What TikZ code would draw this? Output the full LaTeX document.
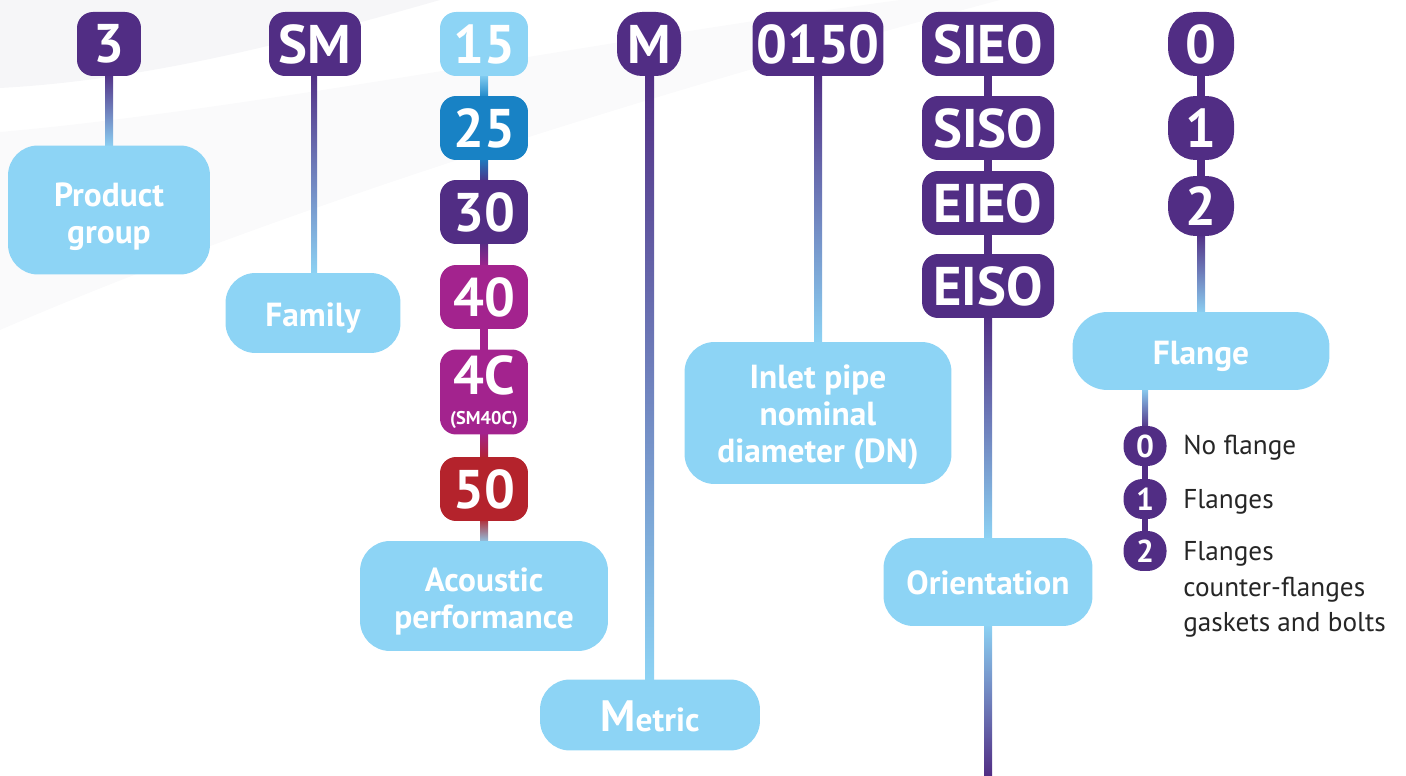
\documentclass[tikz,border=0pt]{standalone}
\usepackage{fontspec}
\setmainfont{PT Sans}
\usepackage{xcolor}
\usetikzlibrary{calc,positioning,backgrounds}

\definecolor{plum}{HTML}{512D84}
\definecolor{sky}{HTML}{8DD4F5}
\definecolor{ocean}{HTML}{1882C5}
\definecolor{orchid}{HTML}{A3238E}
\definecolor{brick}{HTML}{B4232C}
\definecolor{haze}{HTML}{F6F6F8}

\newcommand{\codefont}{\fontsize{31}{31}\selectfont\bfseries}
\newcommand{\tagfont}{\fontsize{19}{21}\selectfont\bfseries}

\tikzset{
  code/.style={fill=plum, text=white, font=\codefont, rounded corners=0.32cm,
    minimum height=1.28cm, inner sep=0pt},
  tag/.style={fill=sky, text=white, font=\tagfont, rounded corners=0.6cm,
    align=center, inner sep=0pt},
  pin/.style={fill=plum, text=white, font=\fontsize{18}{18}\selectfont\bfseries,
    rounded corners=0.38cm, minimum width=0.86cm, minimum height=0.8cm, inner sep=0pt},
  note/.style={anchor=base west, font=\fontsize{15.5}{15.5}\selectfont, text=black!85, inner sep=0pt}
}

\begin{document}
\begin{tikzpicture}[x=0.02cm,y=-0.02cm]
	\useasboundingbox (0,0) rectangle (1406,776);
	% product group and family
	\node[code, minimum width=1.28cm] (c3) at (109,44) {3};
	\node[tag, minimum width=4.04cm, minimum height=2.58cm] (group) at (109,210) {\rule{0pt}{21pt}Product\\group};
	\node[code, minimum width=1.84cm] (sm) at (315,44) {SM};
	\node[tag, minimum width=3.5cm, minimum height=1.6cm] (family) at (313,313) {\rule{0pt}{19pt}Family};
	% acoustic performance
	\node[code, fill=sky, minimum width=1.76cm] (a15) at (484,44) {15};
	\node[code, fill=ocean, minimum width=1.76cm] (a25) at (484,128) {25};
	\node[code, minimum width=1.76cm] (a30) at (484,212) {30};
	\node[code, fill=orchid, minimum width=1.76cm] (a40) at (484,297) {40};
	\node[code, fill=orchid, minimum width=1.76cm, minimum height=1.7cm, align=center] (a4c) at (484,392)
		{4C\\[-14pt]{\fontsize{10.5}{10.5}\selectfont (SM40C)}};
	\node[code, fill=brick, minimum width=1.76cm] (a50) at (484,489) {50};
	\node[tag, minimum width=4.96cm, minimum height=2.2cm] (acoustic) at (484,596) {\rule{0pt}{19.5pt}Acoustic\\performance};
	% metric
	\node[code, minimum width=1.28cm, rounded corners=0.5cm] (m) at (649,44) {M};
	\node[tag, minimum width=4.4cm, minimum height=1.42cm] (metric) at (650,715)
		{\rule{0pt}{19pt}{\fontsize{25}{25}\selectfont M}etric};
	% diameter
	\node[code, minimum width=2.62cm] (dn) at (818,44) {0150};
	\node[tag, minimum width=5.34cm, minimum height=2.84cm] (inlet) at (818,413) {\rule{0pt}{18.5pt}Inlet pipe\\nominal\\diameter (DN)};
	% orientation
	\node[code, minimum width=2.64cm] (sieo) at (988,44) {SIEO};
	\node[code, minimum width=2.64cm] (siso) at (988,128) {SISO};
	\node[code, minimum width=2.64cm] (eieo) at (988,203) {EIEO};
	\node[code, minimum width=2.64cm] (eiso) at (988,286) {EISO};
	\node[tag, minimum width=4.18cm, minimum height=1.76cm] (orient) at (988,582) {\rule{0pt}{14.5pt}Orientation};
	\coordinate (bottom) at (988,776);
	% flange
	\node[code, minimum width=1.32cm, rounded corners=0.55cm] (f0) at (1201,44) {0};
	\node[code, minimum width=1.32cm, rounded corners=0.55cm] (f1) at (1201,128) {1};
	\node[code, minimum width=1.32cm, minimum height=1.2cm, rounded corners=0.55cm] (f2) at (1201,206) {2};
	\node[tag, minimum width=5.14cm, minimum height=1.56cm, rounded corners=0.7cm] (flange) at (1201,351) {\rule{0pt}{19pt}Flange};
	\coordinate (drop) at ([xshift=-1.12cm]flange.south);
	\node[pin] (s0) at (1145,446) {0};
	\node[pin] (s1) at (1145,499) {1};
	\node[pin] (s2) at (1145,551) {2};
	\node[note] (n0) at (1183,455) {No flange};
	\node[note] (n1) at (1183,508) {Flanges};
	\node[note] (n2) at (1183,561) {Flanges};
	\node[note] (n3) at (1183,596) {counter-flanges};
	\node[note] (n4) at (1183,631) {gaskets and bolts};

	\begin{scope}[on background layer]
		\fill[haze] (0,0) -- (440,0) .. controls (300,40) and (150,80) .. (0,88) -- cycle;
		\fill[haze!50] (0,132) .. controls (250,110) and (600,40) .. (900,0) -- (1000,0)
			.. controls (700,80) and (300,200) .. (0,330) -- cycle;
		% connectors
		\shade[top color=plum, bottom color=sky] ([xshift=-0.08cm,yshift=2pt]c3.south) rectangle ([xshift=0.08cm,yshift=-2pt]group.north);
		\shade[top color=plum, bottom color=sky] ([xshift=-0.08cm,yshift=2pt]sm.south) rectangle ([xshift=0.08cm,yshift=-2pt]family.north);
		\shade[top color=sky, bottom color=ocean] ([xshift=-0.08cm,yshift=2pt]a15.south) rectangle ([xshift=0.08cm,yshift=-2pt]a25.north);
		\shade[top color=ocean, bottom color=plum] ([xshift=-0.08cm,yshift=2pt]a25.south) rectangle ([xshift=0.08cm,yshift=-2pt]a30.north);
		\shade[top color=plum, bottom color=orchid] ([xshift=-0.08cm,yshift=2pt]a30.south) rectangle ([xshift=0.08cm,yshift=-2pt]a40.north);
		\fill[orchid] ([xshift=-0.08cm,yshift=2pt]a40.south) rectangle ([xshift=0.08cm,yshift=-2pt]a4c.north);
		\shade[top color=orchid, bottom color=brick] ([xshift=-0.08cm,yshift=2pt]a4c.south) rectangle ([xshift=0.08cm,yshift=-2pt]a50.north);
		\shade[top color=brick, bottom color=sky] ([xshift=-0.08cm,yshift=2pt]a50.south) rectangle ([xshift=0.08cm,yshift=-2pt]acoustic.north);
		\shade[top color=plum, bottom color=sky] ([xshift=-0.08cm,yshift=2pt]m.south) rectangle ([xshift=0.08cm,yshift=-2pt]metric.north);
		\shade[top color=plum, bottom color=sky] ([xshift=-0.08cm,yshift=2pt]dn.south) rectangle ([xshift=0.08cm,yshift=-2pt]inlet.north);
		\fill[plum] ([xshift=-0.08cm,yshift=2pt]sieo.south) rectangle ([xshift=0.08cm,yshift=-2pt]eiso.north);
		\shade[top color=plum, bottom color=sky] ([xshift=-0.08cm,yshift=2pt]eiso.south) rectangle ([xshift=0.08cm,yshift=-2pt]orient.north);
		\shade[top color=sky, bottom color=plum] ([xshift=-0.08cm,yshift=2pt]orient.south) rectangle ([xshift=0.08cm]bottom);
		\fill[plum] ([xshift=-0.08cm,yshift=2pt]f0.south) rectangle ([xshift=0.08cm,yshift=-2pt]f2.north);
		\shade[top color=plum, bottom color=sky] ([xshift=-0.08cm,yshift=2pt]f2.south) rectangle ([xshift=0.08cm,yshift=-2pt]flange.north);
		\shade[top color=sky, bottom color=plum] ([xshift=-0.06cm,yshift=2pt]drop) rectangle ([xshift=0.06cm,yshift=-2pt]s0.north);
		\fill[plum] ([xshift=-0.06cm,yshift=2pt]s0.south) rectangle ([xshift=0.06cm,yshift=-2pt]s2.north);
	\end{scope}
\end{tikzpicture}
\end{document}
